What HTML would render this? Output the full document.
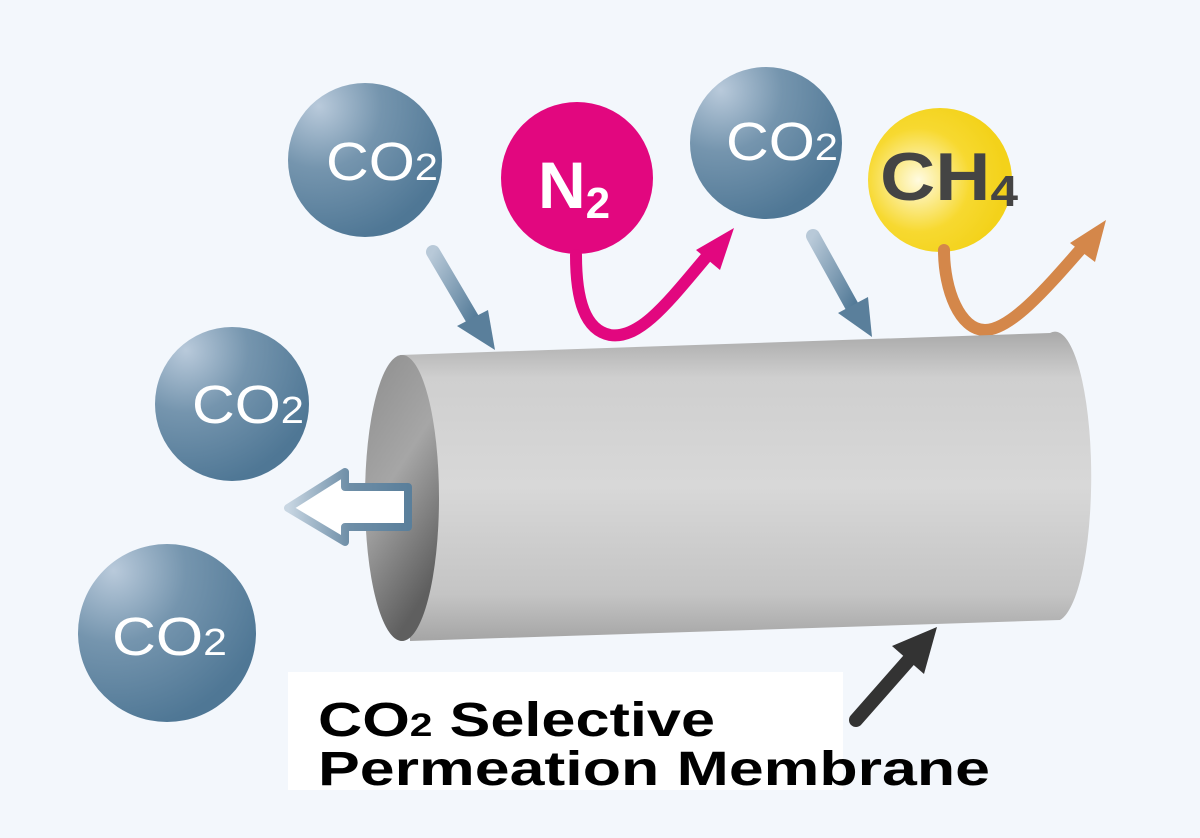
<!DOCTYPE html>
<html><head><style>
html,body{margin:0;padding:0;background:#f3f7fc;}
svg{display:block}
text{font-family:"Liberation Sans",sans-serif}
</style></head><body>
<svg width="1200" height="838" viewBox="0 0 1200 838" xmlns="http://www.w3.org/2000/svg">
<defs>
<radialGradient id="co2" cx="0.2" cy="0.15" r="0.9">
<stop offset="0" stop-color="#b9cadb"/><stop offset="0.45" stop-color="#7595ae"/><stop offset="1" stop-color="#4f7795"/>
</radialGradient>
<radialGradient id="ch4" cx="0.35" cy="0.5" r="0.6">
<stop offset="0" stop-color="#fffbe0"/><stop offset="0.6" stop-color="#f7d930"/><stop offset="1" stop-color="#f3d21a"/>
</radialGradient>
<linearGradient id="body" x1="0" y1="0" x2="0" y2="1">
<stop offset="0" stop-color="#a9a9a9"/><stop offset="0.15" stop-color="#cfcfcf"/><stop offset="0.5" stop-color="#d8d8d8"/><stop offset="0.85" stop-color="#c4c4c4"/><stop offset="1" stop-color="#a5a5a5"/>
</linearGradient>
<linearGradient id="endc" x1="0" y1="0" x2="0.4" y2="1">
<stop offset="0" stop-color="#8e8e8e"/><stop offset="0.5" stop-color="#a6a6a6"/><stop offset="1" stop-color="#5f5f5f"/>
</linearGradient>
<linearGradient id="barr" x1="0" y1="0" x2="1" y2="1">
<stop offset="0" stop-color="#b8c9d8"/><stop offset="1" stop-color="#4f7795"/>
</linearGradient>
<linearGradient id="hol" x1="0" y1="0" x2="1" y2="0">
<stop offset="0" stop-color="#c8d6e2"/><stop offset="0.5" stop-color="#6f8fa8"/><stop offset="1" stop-color="#5a7f9b"/>
</linearGradient>
</defs>
<rect width="1200" height="838" fill="#f3f7fc"/>

<g stroke="url(#barr)" stroke-width="14" stroke-linecap="round" fill="none">
<line x1="433" y1="252" x2="476" y2="325"/>
<line x1="813" y1="236" x2="854" y2="310"/>
</g>
<polygon points="495,350 457,326 488,310" fill="#5a7f9b"/>
<polygon points="872,337 838,313 868,297" fill="#5a7f9b"/>

<circle cx="365" cy="160" r="77" fill="url(#co2)"/>
<circle cx="232" cy="404" r="77" fill="url(#co2)"/>
<circle cx="167" cy="633" r="89" fill="url(#co2)"/>
<circle cx="766" cy="143" r="76" fill="url(#co2)"/>
<circle cx="577" cy="178" r="76" fill="#e2077f"/>
<circle cx="940" cy="180" r="72" fill="url(#ch4)"/>

<g fill="#fff" font-size="54">
<text x="326" y="180" textLength="112" lengthAdjust="spacingAndGlyphs">CO<tspan font-size="38">2</tspan></text>
<text x="192" y="423" textLength="112" lengthAdjust="spacingAndGlyphs">CO<tspan font-size="38">2</tspan></text>
<text x="112" y="655" textLength="115" lengthAdjust="spacingAndGlyphs">CO<tspan font-size="38">2</tspan></text>
<text x="726" y="160" textLength="112" lengthAdjust="spacingAndGlyphs">CO<tspan font-size="38">2</tspan></text>
</g>
<text x="538" y="208" fill="#fff" font-size="66" font-weight="bold">N<tspan font-size="44" dy="10">2</tspan></text>
<text x="880" y="200" fill="#444" font-size="68" font-weight="bold" textLength="138" lengthAdjust="spacingAndGlyphs">CH<tspan font-size="44" dy="6">4</tspan></text>

<path d="M576,255 C576,300 585,330 610,335 C640,340 670,300 708,255" stroke="#e2077f" stroke-width="12" fill="none" stroke-linecap="round"/>
<polygon points="734,228 720,270 696,250" fill="#e2077f"/>
<path d="M944,250 C944,290 960,330 985,330 C1010,330 1045,290 1080,250" stroke="#d4874a" stroke-width="12" fill="none" stroke-linecap="round"/>
<polygon points="1106,220 1095,262 1070,243" fill="#d4874a"/>

<path d="M400,355 L1050,333 A36,144 0 0 1 1060,620 L410,641 Z" fill="url(#body)"/>
<ellipse cx="402" cy="498" rx="37" ry="143" fill="url(#endc)"/>

<polygon points="288,508 345,472 345,487 408,487 408,527 345,527 345,542" fill="#fff" stroke="url(#hol)" stroke-width="8" stroke-linejoin="round"/>

<rect x="288" y="672" width="555" height="118" fill="#fff"/>
<g font-weight="bold" fill="#000" font-size="48">
<text x="318" y="736" textLength="397" lengthAdjust="spacingAndGlyphs">CO<tspan font-size="32">2</tspan> Selective</text>
<text x="318" y="785" textLength="672" lengthAdjust="spacingAndGlyphs">Permeation Membrane</text>
</g>
<line x1="856" y1="720" x2="915" y2="653" stroke="#333" stroke-width="14" stroke-linecap="round"/>
<polygon points="937,627 924,674 892,646" fill="#333"/>
</svg>
</body></html>
